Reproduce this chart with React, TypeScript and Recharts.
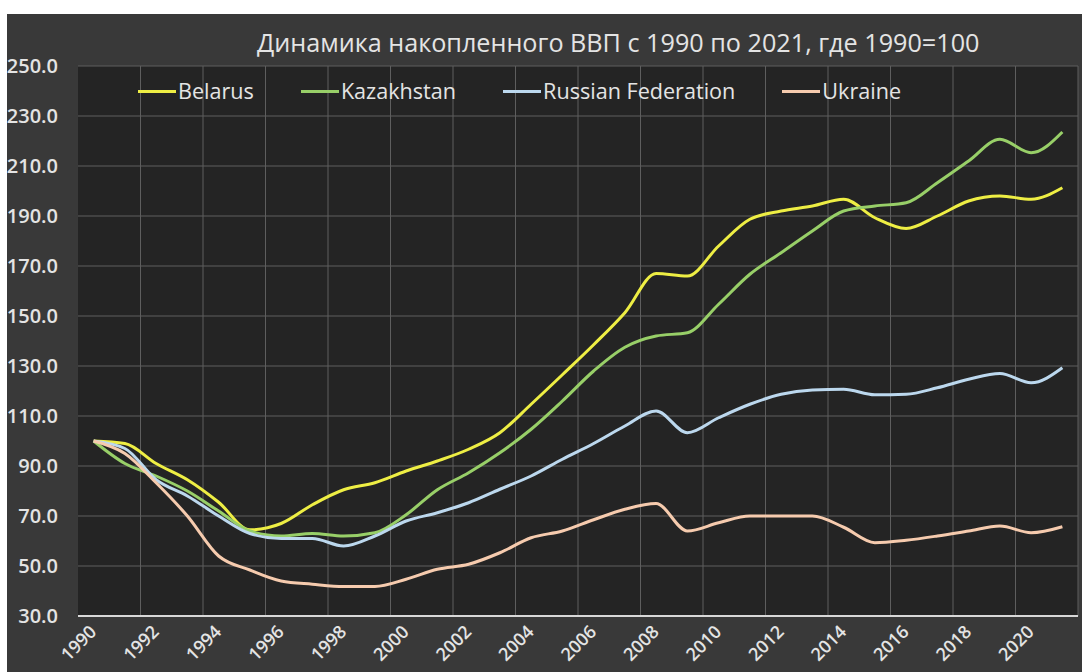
import { LineChart, Line, XAxis, YAxis, CartesianGrid, Legend, ReferenceLine } from "recharts";

const years = [
  1990, 1991, 1992, 1993, 1994, 1995, 1996, 1997, 1998, 1999, 2000, 2001, 2002, 2003, 2004, 2005,
  2006, 2007, 2008, 2009, 2010, 2011, 2012, 2013, 2014, 2015, 2016, 2017, 2018, 2019, 2020, 2021,
];

const belarus = [
  100, 99, 91, 84.5, 75.5, 64.5, 67, 74.5, 80.5, 83.3, 88, 92, 96.7, 103.3, 114.7, 126.5,
  138.5, 151.3, 167, 166, 178, 188.7, 192, 194, 196.7, 189.3, 185, 190, 196, 198, 196.7, 201.3,
];
const kazakhstan = [
  100, 91, 86, 80, 72, 64, 62, 63, 62, 63.3, 70.5, 80.5, 87.3, 95.3, 104.7, 116,
  128, 137.5, 142, 143.3, 154.7, 166.7, 175.3, 184, 192, 194, 195.3, 203.3, 212, 220.7, 215.3, 223.6,
];
const russia = [
  100, 97, 84.5, 78, 70, 63, 61, 61, 58, 62, 68, 71.3, 75.3, 80.7, 86, 92.7,
  99, 106, 112, 103.3, 109.3, 114.7, 118.7, 120.4, 120.7, 118.5, 118.7, 121.3, 124.7, 127, 123.3, 129.3,
];
const ukraine = [
  100, 95, 83.3, 70, 54, 48.4, 44, 42.7, 41.8, 41.8, 44.7, 48.7, 50.7, 55.3, 61.3, 64,
  68.5, 72.7, 75, 64, 67.3, 70, 70, 70, 65.5, 59.3, 60.3, 62, 64, 66, 63.3, 65.7,
];

const yTicks = [30, 50, 70, 90, 110, 130, 150, 170, 190, 210, 230, 250];
const xTicks = years.filter((_, i) => i % 2 === 0);
const gridYears = years.filter((_, i) => i % 2 === 1).map((y) => y + 0.5);

const series = [
  { key: "belarus", name: "Belarus", color: "#eeee44" },
  { key: "kazakhstan", name: "Kazakhstan", color: "#98cf68" },
  { key: "russia", name: "Russian Federation", color: "#bcd8ee" },
  { key: "ukraine", name: "Ukraine", color: "#f6cbae" },
];

const data = years.map((year, i) => ({
  year,
  belarus: belarus[i],
  kazakhstan: kazakhstan[i],
  russia: russia[i],
  ukraine: ukraine[i],
}));

const FONT = "'Open Sans', sans-serif";
const TEXT = "#e4e4e4";
const GRID = "#5e5e5e";

function YearTick({ x, y, payload }: any) {
  const ax = x + 4;
  const ay = y + 17;
  return (
    <text
      x={ax}
      y={ay}
      textAnchor="end"
      transform={`rotate(-45 ${ax} ${ay})`}
      fill={TEXT}
      fontSize={18}
      fontWeight={600}
      fontFamily={FONT}
    >
      {payload.value}
    </text>
  );
}

function LegendContent() {
  return (
    <div style={{ display: "flex", gap: 47, fontFamily: FONT, fontSize: 21.6, color: TEXT, lineHeight: "28px" }}>
      {series.map((s) => (
        <div key={s.key} style={{ display: "flex", alignItems: "center" }}>
          <span style={{ display: "inline-block", width: 38, height: 3, background: s.color, marginRight: 2 }} />
          <span>{s.name}</span>
        </div>
      ))}
    </div>
  );
}

export default function App() {
  return (
    <div style={{ position: "absolute", left: 0, top: 0, width: 1082, height: 672, background: "#ffffff" }}>
      <div style={{ position: "absolute", left: 7, top: 14, width: 1075, height: 658, background: "#393939" }}>
        <div
          style={{
            position: "absolute",
            left: 250,
            top: 11,
            fontFamily: FONT,
            fontSize: 25.2,
            color: TEXT,
            whiteSpace: "nowrap",
          }}
        >
          Динамика накопленного ВВП с 1990 по 2021, где 1990=100
        </div>
        <LineChart width={1075} height={658} data={data} margin={{ top: 52, right: 4, left: 11, bottom: 6 }}>
          <CartesianGrid vertical={false} stroke={GRID} fill="#242424" />
          {gridYears.map((g) => (
            <ReferenceLine key={g} x={g} stroke={GRID} />
          ))}
          <XAxis
            dataKey="year"
            type="number"
            domain={[1989.5, 2021.5]}
            ticks={xTicks}
            interval={0}
            height={50}
            tickSize={0}
            tickMargin={0}
            tickLine={false}
            axisLine={{ stroke: "#d8d8d8", strokeWidth: 2 }}
            tick={<YearTick />}
          />
          <YAxis
            domain={[30, 250]}
            ticks={yTicks}
            width={60}
            tickSize={0}
            tickMargin={20}
            axisLine={false}
            tickLine={false}
            tickFormatter={(v: number) => v.toFixed(1)}
            tick={{ fill: TEXT, fontSize: 20, fontWeight: 600, fontFamily: FONT }}
          />
          <Legend
            layout="horizontal"
            verticalAlign="middle"
            align="center"
            content={<LegendContent />}
            wrapperStyle={{ top: 63, left: 131, width: 930, height: 28 }}
          />
          {series.map((s) => (
            <Line
              key={s.key}
              dataKey={s.key}
              name={s.name}
              type="monotone"
              stroke={s.color}
              strokeWidth={3}
              dot={false}
              isAnimationActive={false}
            />
          ))}
        </LineChart>
      </div>
    </div>
  );
}
